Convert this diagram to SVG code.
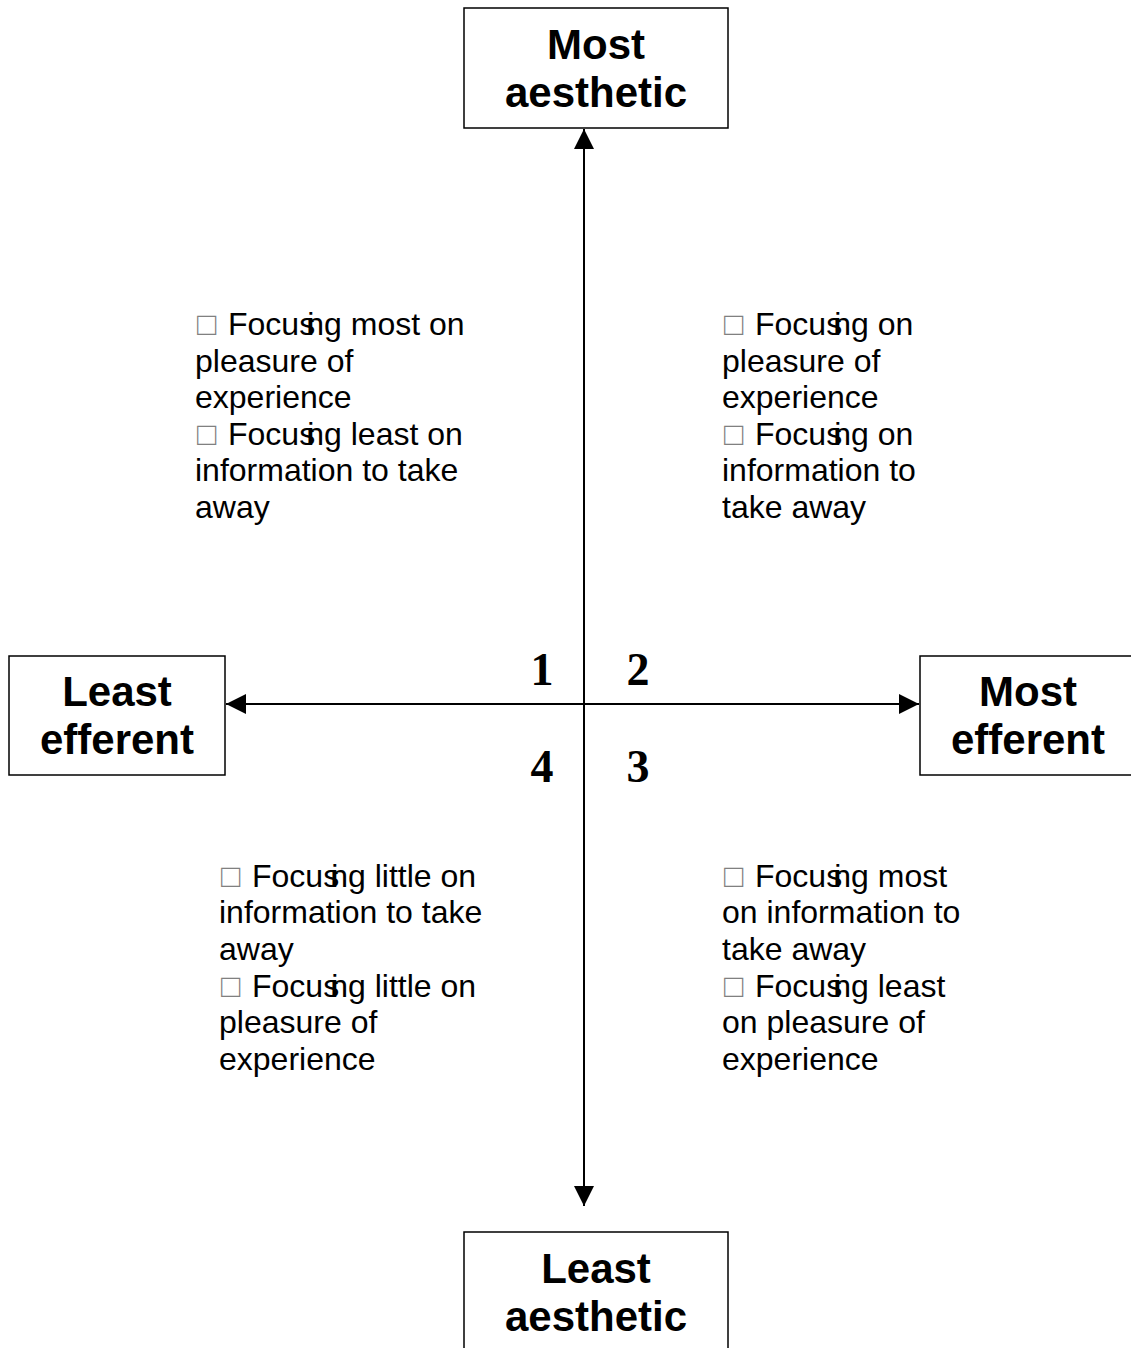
<svg xmlns="http://www.w3.org/2000/svg" width="1131" height="1348" viewBox="0 0 1131 1348">
<style>
.box{fill:#fff;stroke:#000;stroke-width:1.5}
.lbl{font-family:"Liberation Sans",Arial,sans-serif;font-weight:bold;font-size:42px;text-anchor:middle;fill:#000}
.num{font-family:"Liberation Serif","Times New Roman",serif;font-weight:bold;font-size:46px;text-anchor:middle;fill:#000}
.q{font-family:"Liberation Sans",Arial,sans-serif;font-size:32px;fill:#000}
.t{fill:#808080}
.s{letter-spacing:-8px}
.axis{stroke:#000;stroke-width:2;fill:none}
</style>
<defs>
<marker id="ah" markerUnits="userSpaceOnUse" markerWidth="20" markerHeight="20" refX="20" refY="10" orient="auto-start-reverse" viewBox="0 0 20 20">
<path d="M0,0 L20,10 L0,20 z" fill="#000"/>
</marker>
</defs>
<rect width="1131" height="1348" fill="#fff"/>
<g id="connectors">
<line class="axis" x1="584" y1="129" x2="584" y2="1206" marker-start="url(#ah)" marker-end="url(#ah)"/>
<line class="axis" x1="226" y1="704" x2="919" y2="704" marker-start="url(#ah)" marker-end="url(#ah)"/>
</g>
<g id="most-aesthetic">
<rect class="box" x="464" y="8" width="264" height="120"/>
<text class="lbl" x="596" y="59">Most</text>
<text class="lbl" x="596" y="107">aesthetic</text>
</g>
<g id="least-efferent">
<rect class="box" x="9" y="656" width="216" height="119"/>
<text class="lbl" x="117" y="706">Least</text>
<text class="lbl" x="117" y="754">efferent</text>
</g>
<g id="most-efferent">
<rect class="box" x="920" y="656" width="216" height="119"/>
<text class="lbl" x="1028" y="706">Most</text>
<text class="lbl" x="1028" y="754">efferent</text>
</g>
<g id="least-aesthetic">
<rect class="box" x="464" y="1232" width="264" height="130"/>
<text class="lbl" x="596" y="1283">Least</text>
<text class="lbl" x="596" y="1331">aesthetic</text>
</g>
<g id="quadrant-numbers">
<text class="num" x="542" y="685">1</text>
<text class="num" x="638" y="685">2</text>
<text class="num" x="542" y="782">4</text>
<text class="num" x="638" y="782">3</text>
</g>
<g id="quadrant-1">
<text class="q t" x="197" y="335">□</text>
<text class="q" x="228" y="335">Focu<tspan class="s">si</tspan>ng most on</text>
<text class="q" x="195" y="372">pleasure of</text>
<text class="q" x="195" y="408">experience</text>
<text class="q t" x="197" y="445">□</text>
<text class="q" x="228" y="445">Focu<tspan class="s">si</tspan>ng least on</text>
<text class="q" x="195" y="481">information to take</text>
<text class="q" x="195" y="518">away</text>
</g>
<g id="quadrant-2">
<text class="q t" x="724" y="335">□</text>
<text class="q" x="755" y="335">Focu<tspan class="s">si</tspan>ng on</text>
<text class="q" x="722" y="372">pleasure of</text>
<text class="q" x="722" y="408">experience</text>
<text class="q t" x="724" y="445">□</text>
<text class="q" x="755" y="445">Focu<tspan class="s">si</tspan>ng on</text>
<text class="q" x="722" y="481">information to</text>
<text class="q" x="722" y="518">take away</text>
</g>
<g id="quadrant-4">
<text class="q t" x="221" y="887">□</text>
<text class="q" x="252" y="887">Focu<tspan class="s">si</tspan>ng little on</text>
<text class="q" x="219" y="923">information to take</text>
<text class="q" x="219" y="960">away</text>
<text class="q t" x="221" y="997">□</text>
<text class="q" x="252" y="997">Focu<tspan class="s">si</tspan>ng little on</text>
<text class="q" x="219" y="1033">pleasure of</text>
<text class="q" x="219" y="1070">experience</text>
</g>
<g id="quadrant-3">
<text class="q t" x="724" y="887">□</text>
<text class="q" x="755" y="887">Focu<tspan class="s">si</tspan>ng most</text>
<text class="q" x="722" y="923">on information to</text>
<text class="q" x="722" y="960">take away</text>
<text class="q t" x="724" y="997">□</text>
<text class="q" x="755" y="997">Focu<tspan class="s">si</tspan>ng least</text>
<text class="q" x="722" y="1033">on pleasure of</text>
<text class="q" x="722" y="1070">experience</text>
</g>
</svg>
